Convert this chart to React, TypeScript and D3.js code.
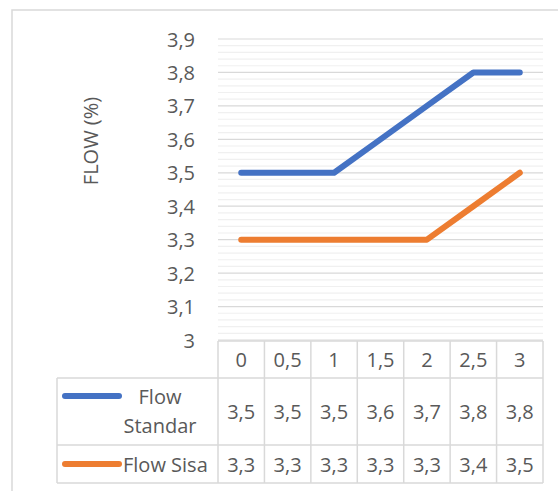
import React from "react";
import * as d3 from "d3";

const categories = ["0", "0,5", "1", "1,5", "2", "2,5", "3"];
const flowStandar = [3.5, 3.5, 3.5, 3.6, 3.7, 3.8, 3.8];
const flowSisa = [3.3, 3.3, 3.3, 3.3, 3.3, 3.4, 3.5];
const yTicks = [3.0, 3.1, 3.2, 3.3, 3.4, 3.5, 3.6, 3.7, 3.8, 3.9];
const seriesNames = ["Flow Standar", "Flow Sisa"];
const seriesColors = ["#4472C4", "#ED7D31"];
const axisTitle = "FLOW (%)";

const W = 558;
const H = 491;
const FONT = "'Open Sans', 'Noto Sans', sans-serif";
const TXT = "#595959";
const GRID = "#d9d9d9";
const MINOR = "#f0f0f0";

const fmt = (v: number) => {
  const s = d3.format(".1f")(v).replace(".", ",");
  return s === "3,0" ? "3" : s;
};

export default function App() {
  const plotL = 218, plotR = 543, plotT = 39, plotB = 340;
  const x = d3.scaleBand<string>().domain(categories).range([plotL, plotR]);
  const y = d3.scaleLinear().domain([3, 3.9]).range([plotB, plotT]);
  const minorTicks = d3.range(3, 3.9001, 0.02).filter((v) => Math.abs(Math.round(v * 10) - v * 10) > 0.01);
  const line = d3
    .line<number>()
    .x((_, i) => (x(categories[i]) as number) + x.bandwidth() / 2)
    .y((d) => y(d));

  const rowTops = [341, 378, 445, 483];
  const legL = 57;
  const series = [flowStandar, flowSisa];
  const fs = 20;

  return (
    <svg width={W} height={H} style={{ position: "absolute", left: 0, top: 0, background: "#fff" }} fontFamily={FONT}>
      <rect x={12} y={10} width={W + 20} height={H + 20} fill="#fff" stroke={GRID} strokeWidth={1.5} />
      {/* minor grid */}
      {minorTicks.map((v, i) => (
        <line key={"m" + i} x1={plotL} x2={plotR} y1={y(v)} y2={y(v)} stroke={MINOR} strokeWidth={1.2} />
      ))}
      {yTicks.map((v) => (
        <line key={"g" + v} x1={plotL} x2={plotR} y1={y(v)} y2={y(v)} stroke={GRID} strokeWidth={1.2} />
      ))}
      {yTicks.map((v) => (
        <text key={"t" + v} x={195} y={y(v)} textAnchor="end" dominantBaseline="central" fontSize={fs} fill={TXT}>
          {fmt(v)}
        </text>
      ))}
      <text
        transform={`translate(90,141) rotate(-90)`}
        textAnchor="middle"
        dominantBaseline="central"
        fontSize={fs}
        fill={TXT}
      >
        {axisTitle}
      </text>
      {series.map((s, i) => (
        <path
          key={"s" + i}
          d={line(s) as string}
          fill="none"
          stroke={seriesColors[i]}
          strokeWidth={6}
          strokeLinecap="round"
          strokeLinejoin="round"
        />
      ))}
      {/* data table */}
      <g stroke={GRID} strokeWidth={1.5} fill="none">
        <line x1={plotL} x2={plotR} y1={rowTops[0]} y2={rowTops[0]} />
        {rowTops.slice(1).map((r) => (
          <line key={"r" + r} x1={legL} x2={plotR} y1={r} y2={r} />
        ))}
        {categories.map((c) => (
          <line key={"c" + c} x1={x(c) as number} x2={x(c) as number} y1={rowTops[0]} y2={rowTops[3]} />
        ))}
        <line x1={plotR} x2={plotR} y1={rowTops[0]} y2={rowTops[3]} />
        <line x1={legL} x2={legL} y1={rowTops[1]} y2={rowTops[3]} />
      </g>
      {categories.map((c) => (
        <text
          key={"h" + c}
          x={(x(c) as number) + x.bandwidth() / 2}
          y={(rowTops[0] + rowTops[1]) / 2}
          textAnchor="middle"
          dominantBaseline="central"
          fontSize={fs}
          fill={TXT}
        >
          {c}
        </text>
      ))}
      {series.map((s, si) =>
        s.map((v, i) => (
          <text
            key={"v" + si + "-" + i}
            x={(x(categories[i]) as number) + x.bandwidth() / 2}
            y={(rowTops[si + 1] + rowTops[si + 2]) / 2}
            textAnchor="middle"
            dominantBaseline="central"
            fontSize={fs}
            fill={TXT}
          >
            {fmt(v)}
          </text>
        ))
      )}
      {/* legend keys */}
      <line x1={65} x2={119} y1={396} y2={396} stroke={seriesColors[0]} strokeWidth={6} strokeLinecap="round" />
      <text x={160} y={396} textAnchor="middle" dominantBaseline="central" fontSize={fs} fill={TXT}>
        {seriesNames[0].split(" ")[0]}
      </text>
      <text x={160} y={425} textAnchor="middle" dominantBaseline="central" fontSize={fs} fill={TXT}>
        {seriesNames[0].split(" ")[1]}
      </text>
      <line x1={65} x2={119} y1={464} y2={464} stroke={seriesColors[1]} strokeWidth={6} strokeLinecap="round" />
      <text x={123} y={464} textAnchor="start" dominantBaseline="central" fontSize={fs} fill={TXT}>
        {seriesNames[1]}
      </text>
    </svg>
  );
}
